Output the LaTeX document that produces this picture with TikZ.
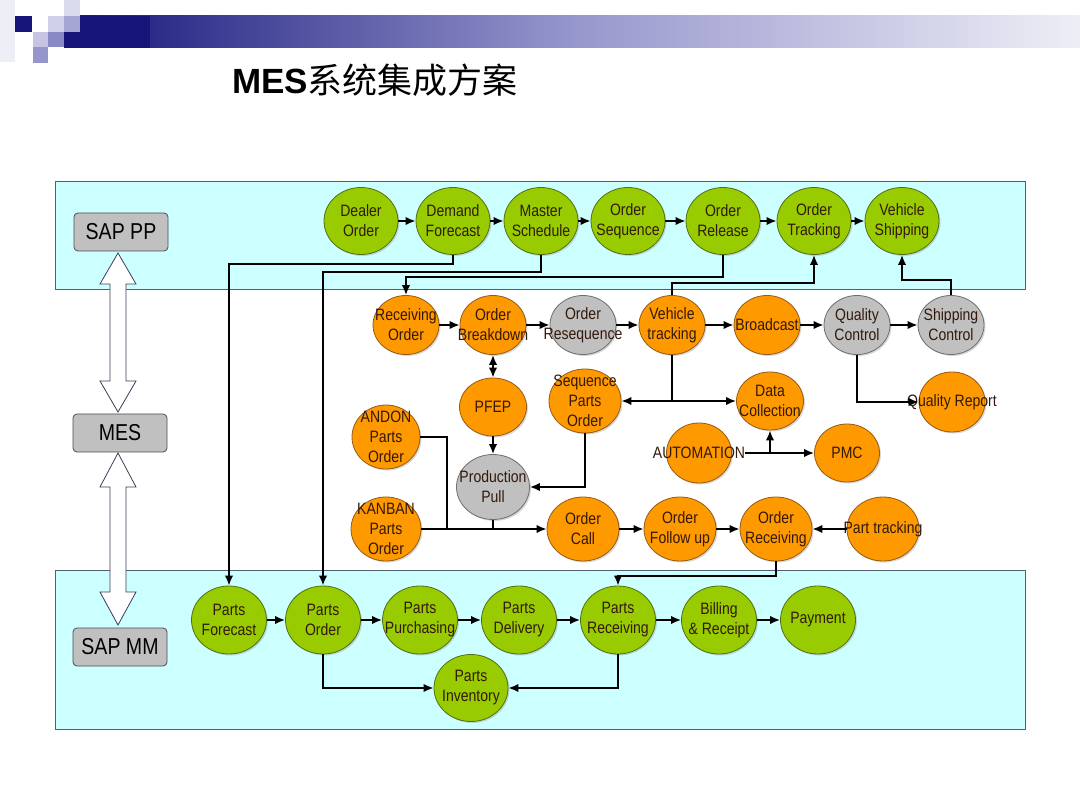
\documentclass[tikz,border=0pt]{standalone}
\usepackage{fontspec}
\setmainfont{Liberation Sans}
\newfontfamily\cjk{Noto Sans CJK SC}
\newfontfamily\nfont{Liberation Sans}[FakeStretch=0.85]
\usetikzlibrary{arrows.meta,shapes.geometric,shadows}
\definecolor{band}{RGB}{204,255,255}
\definecolor{bandline}{RGB}{80,96,112}
\definecolor{gfill}{RGB}{153,204,0}
\definecolor{gline}{RGB}{80,110,20}
\definecolor{ofill}{RGB}{255,153,0}
\definecolor{oline}{RGB}{150,90,20}
\definecolor{yfill}{RGB}{192,192,192}
\definecolor{yline}{RGB}{110,110,110}
\definecolor{navy1}{RGB}{22,22,122}
\definecolor{navy2}{RGB}{150,150,205}
\definecolor{navy3}{RGB}{238,238,246}
\definecolor{arrline}{RGB}{60,60,90}
\definecolor{otext}{RGB}{50,25,10}
\tikzset{
  base/.style={ellipse, inner sep=0pt, line width=0.8pt,
    drop shadow={shadow xshift=1.5pt, shadow yshift=-1.5pt, opacity=0.3}},
  gn/.style={base, fill=gfill, draw=gline},
  on/.style={base, fill=ofill, draw=oline},
  yn/.style={base, fill=yfill, draw=yline},
  sz/.style 2 args={minimum width=#1, minimum height=#2},
  txt/.style={font=\nfont\fontsize{16.5}{20}\selectfont, align=center, inner sep=0pt, text=otext},
  conn/.style={line width=1.8pt, -{Latex[length=10pt,width=8.5pt]}},
  dconn/.style={line width=1.8pt, {Latex[length=10pt,width=8.5pt]}-{Latex[length=10pt,width=8.5pt]}},
  wire/.style={line width=1.8pt},
  sysbox/.style={rectangle, rounded corners=4pt, fill=yfill, draw=black!70, line width=0.8pt,
    minimum width=94pt, minimum height=38pt, inner sep=0pt, font=\nfont\fontsize{23}{25}\selectfont},
  bandbox/.style={fill=band, draw=bandline, line width=1pt},
  bigarrow/.style={fill=white, draw=arrline, line width=0.8pt, line join=miter}
}
\newcommand\Nd[5]{\node[#1,#2] (#3) at #4 {}; \node[txt] (#3t) at (#3) {#5};}
\begin{document}
\begin{tikzpicture}[x=1pt,y=-1pt]
\useasboundingbox (0,0) rectangle (1080,810);
\fill[white] (0,0) rectangle (1080,810);
% header decoration
\shade[left color=navy1, right color=navy3, middle color=navy2] (64,16) rectangle (1080,48);
\fill[navy1] (64,16) rectangle (150,48);
\fill[navy3] (0,0) rectangle (15,62);
\fill[navy1] (15,16) rectangle (32,32);
\fill[navy2!55!white] (33,32) rectangle (48,47);
\fill[navy2!45!white] (48,16) rectangle (64,32);
\fill[navy2!90!navy1] (48,32) rectangle (64,47);
\fill[navy2] (33,47) rectangle (48,63);
\fill[navy2!35!white] (64,0) rectangle (80,16);
\fill[navy2!85!white] (64,16) rectangle (80,32);
% title
\node (title) at (375,80) {\fontsize{35}{40}\selectfont\textbf{MES}\cjk 系统集成方案};
% bands
\draw[bandbox] (55,182) rectangle (1025,290);
\draw[bandbox] (55,570) rectangle (1025,729);
% big double arrows
\draw[bigarrow] (118,253) -- (136,284) -- (126,284) -- (126,381) -- (136,381) -- (118,412)
  -- (100,381) -- (110,381) -- (110,284) -- (100,284) -- cycle;
\draw[bigarrow] (118,453) -- (136,487) -- (126,487) -- (126,592) -- (136,592) -- (118,625)
  -- (100,592) -- (110,592) -- (110,487) -- (100,487) -- cycle;
% system boxes
\node[sysbox] (sappp) at (121,232) {SAP PP};
\node[sysbox] (mes) at (120,433) {MES};
\node[sysbox] (sapmm) at (120,647) {SAP MM};
% top row
\Nd{gn}{sz={74pt}{67pt}}{do}{(361,221)}{Dealer\\Order}
\Nd{gn}{sz={74pt}{67pt}}{dfc}{(453,221)}{Demand\\Forecast}
\Nd{gn}{sz={74pt}{67pt}}{ms}{(541,221)}{Master\\Schedule}
\Nd{gn}{sz={74pt}{67pt}}{osq}{(628,221)}{Order\\Sequence}
\Nd{gn}{sz={74pt}{67pt}}{orl}{(723,221)}{Order\\Release}
\Nd{gn}{sz={74pt}{67pt}}{otr}{(814,221)}{Order\\Tracking}
\Nd{gn}{sz={74pt}{67pt}}{vsh}{(902,221)}{Vehicle\\Shipping}
% row 2
\Nd{on}{sz={66pt}{59pt}}{ro}{(406,325)}{Receiving\\Order}
\Nd{on}{sz={66pt}{59pt}}{ob}{(493,325)}{Order\\Breakdown}
\Nd{yn}{sz={66pt}{59pt}}{ors}{(583,325)}{Order\\Resequence}
\Nd{on}{sz={66pt}{59pt}}{vt}{(672,325)}{Vehicle\\tracking}
\Nd{on}{sz={66pt}{59pt}}{bc}{(767,325)}{Broadcast}
\Nd{yn}{sz={66pt}{59pt}}{qc}{(857,325)}{Quality\\Control}
\Nd{yn}{sz={66pt}{59pt}}{sc}{(951,325)}{Shipping\\Control}
% row 3
\Nd{on}{sz={67pt}{58pt}}{pfep}{(493,407)}{PFEP}
\Nd{on}{sz={72pt}{64pt}}{spo}{(585,401)}{Sequence\\Parts\\Order}
\Nd{on}{sz={68pt}{64pt}}{andon}{(386,437)}{ANDON\\Parts\\Order}
\Nd{on}{sz={67pt}{58pt}}{dc}{(770,401)}{Data\\Collection}
\Nd{on}{sz={66pt}{60pt}}{qr}{(952,402)}{Quality Report}
\Nd{on}{sz={65pt}{60pt}}{auto}{(699,453)}{AUTOMATION}
\Nd{on}{sz={65pt}{58pt}}{pmc}{(847,453)}{PMC}
\Nd{yn}{sz={73pt}{65pt}}{pp}{(493,487)}{Production\\Pull}
% row 4
\Nd{on}{sz={70pt}{64pt}}{kan}{(386,529)}{KANBAN\\Parts\\Order}
\Nd{on}{sz={72pt}{64pt}}{oc}{(583,529)}{Order\\Call}
\Nd{on}{sz={72pt}{64pt}}{ofu}{(680,529)}{Order\\Follow up}
\Nd{on}{sz={72pt}{64pt}}{orc}{(776,529)}{Order\\Receiving}
\Nd{on}{sz={72pt}{64pt}}{ptr}{(883,529)}{Part tracking}
% bottom row
\Nd{gn}{sz={75pt}{68pt}}{pf}{(229,620)}{Parts\\Forecast}
\Nd{gn}{sz={75pt}{68pt}}{po}{(323,620)}{Parts\\Order}
\Nd{gn}{sz={75pt}{68pt}}{pu}{(420,620)}{Parts\\Purchasing}
\Nd{gn}{sz={75pt}{68pt}}{pd}{(519,620)}{Parts\\Delivery}
\Nd{gn}{sz={75pt}{68pt}}{pr}{(618,620)}{Parts\\Receiving}
\Nd{gn}{sz={75pt}{68pt}}{br}{(719,620)}{Billing\\\& Receipt}
\Nd{gn}{sz={75pt}{68pt}}{pay}{(818,620)}{Payment}
\Nd{gn}{sz={74pt}{67pt}}{pi}{(471,688)}{Parts\\Inventory}
% bend levels
\coordinate (l1) at (0,264);
\coordinate (l2) at (0,272);
\coordinate (l3) at (0,277);
\coordinate (l4) at (0,283);
\coordinate (l5) at (0,280);
\coordinate (l6) at (0,576);
% top row chain
\draw[conn] (do) -- (dfc);
\draw[conn] (dfc) -- (ms);
\draw[conn] (ms) -- (osq);
\draw[conn] (osq) -- (orl);
\draw[conn] (orl) -- (otr);
\draw[conn] (otr) -- (vsh);
% top-down links
\draw[conn] (dfc.south) -- (dfc.south |- l1) -- (pf.north |- l1) -- (pf.north);
\draw[conn, line width=2.2pt] (ms.south) -- (ms.south |- l2) -- (po.north |- l2) -- (po.north);
\draw[conn] (orl.south) -- (orl.south |- l3) -- (ro.north |- l3) -- (ro.north);
\draw[conn] (vt.north) -- (vt.north |- l4) -- (otr.south |- l4) -- (otr.south);
\draw[conn] (sc.north) -- (sc.north |- l5) -- (vsh.south |- l5) -- (vsh.south);
% row 2 chain
\draw[conn] (ro) -- (ob);
\draw[conn] (ob) -- (ors);
\draw[conn] (ors) -- (vt);
\draw[conn] (vt) -- (bc);
\draw[conn] (bc) -- (qc);
\draw[conn] (qc) -- (sc);
% middle links
\draw[dconn] (ob.south) -- (pfep.north);
\draw[conn] (pfep.south) -- (pp.north);
\draw[conn] (spo.south) |- (pp.east);
\coordinate (j1) at (vt.south |- dc.west);
\draw[wire] (vt.south) -- (j1);
\draw[conn] (j1) -- (spo.east);
\draw[conn] (j1) -- (dc.west);
\draw[conn] (qc.south) |- (qr.west);
\draw[conn] (autot.east) -- (pmc.west);
\coordinate (j2) at (dc.south |- pmc.west);
\draw[conn] (j2) -- (dc.south);
\coordinate (j3) at (447,529);
\draw[wire] (andon.east) -| (j3);
\draw[conn] (kan.east) -- (oc.west);
\draw[wire] (pp.south) -- (pp.south |- oc.west);
\draw[conn] (oc) -- (ofu);
\draw[conn] (ofu) -- (orc);
\draw[conn] (ptr.west) -- (orc.east);
\draw[conn] (orc.south) -- (orc.south |- l6) -- (pr.north |- l6) -- (pr.north);
% bottom chain
\draw[conn] (pf) -- (po);
\draw[conn] (po) -- (pu);
\draw[conn] (pu) -- (pd);
\draw[conn] (pd) -- (pr);
\draw[conn] (pr) -- (br);
\draw[conn] (br) -- (pay);
\draw[conn] (po.south) |- (pi.west);
\draw[conn] (pr.south) |- (pi.east);
\end{tikzpicture}
\end{document}
